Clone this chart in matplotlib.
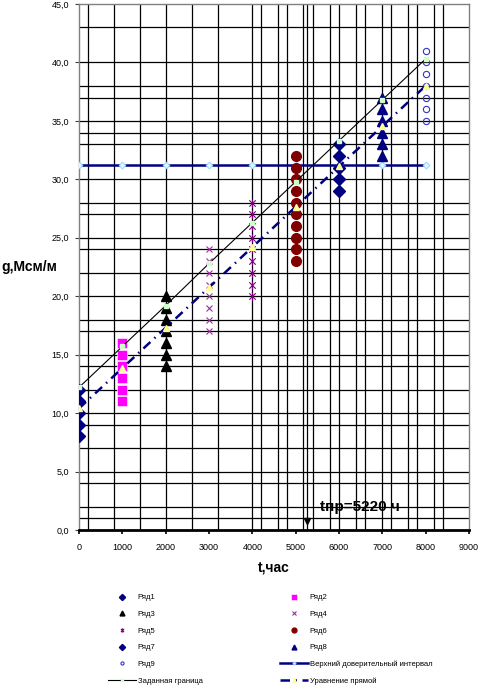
import matplotlib
matplotlib.use("Agg")
import matplotlib.pyplot as plt
from matplotlib.path import Path
from matplotlib.ticker import FuncFormatter

plt.rcParams['font.family'] = ['Liberation Sans', 'DejaVu Sans']

# ---- data ----
x_r1 = [0, 0, 0, 0, 0];                 y_r1 = [8, 9, 10, 11, 12]
x_r2 = [1000] * 6;                      y_r2 = [11, 12, 13, 14, 15, 16]
x_r3 = [2000] * 7;                      y_r3 = [14, 15, 16, 17, 18, 19, 20]
x_r4 = [3000] * 8;                      y_r4 = [17, 18, 19, 20, 21, 22, 23, 24]
x_r5 = [4000] * 9;                      y_r5 = [20, 21, 22, 23, 24, 25, 26, 27, 28]
x_r6 = [5000] * 10;                     y_r6 = [23, 24, 25, 26, 27, 28, 29, 30, 31, 32]
x_r7 = [6000] * 5;                      y_r7 = [29, 30, 31, 32, 33]
x_r8 = [7000] * 6;                      y_r8 = [32, 33, 34, 35, 36, 37]
x_r9 = [8000] * 7;                      y_r9 = [35, 36, 37, 38, 39, 40, 41]

x_line = [0, 1000, 2000, 3000, 4000, 5000, 6000, 7000, 8000]
y_upper = [31.2, 31.2, 31.2, 31.2, 31.2, 31.2, 31.2, 31.2, 31.2]
y_bound = [12.2, 15.7, 19.2, 22.8, 26.3, 29.8, 33.3, 36.8, 40.3]
y_fit = [10.4, 13.85, 17.3, 20.75, 24.2, 27.65, 31.1, 34.55, 38.0]

t_pr = 5250
t_pr_label = "tпр=5220 ч"

grid_y = [1, 2, 4, 5, 7, 9, 10, 12, 14, 15, 17, 18, 20, 22, 24, 25, 27, 28, 30,
          33, 34, 35, 37, 38, 40, 43]
grid_x = [200, 800, 1400, 2000, 2600, 3200, 4000, 4200, 4600, 4800, 5180, 5250,
          5400, 5800, 6000, 6400, 6600, 7000, 7200, 7600, 7800, 8200, 8400]

labels = ["Ряд1", "Ряд2", "Ряд3", "Ряд4", "Ряд5", "Ряд6", "Ряд7", "Ряд8", "Ряд9",
          "Верхний доверительный интервал", "Заданная граница", "Уравнение прямой"]

# ---- figure ----
W, H = 479, 686
fig = plt.figure(figsize=(W / 100, H / 100), dpi=100)
ax = fig.add_axes([79 / W, 1 - 530 / H, 390 / W, 526 / H])
ax.set_xlim(0, 9000)
ax.set_ylim(0, 45)

for gy in grid_y:
    ax.axhline(gy, color='black', lw=0.9, zorder=1)
for gx in grid_x:
    ax.axvline(gx, color='black', lw=0.9, zorder=1)

star = Path([(-1, -1), (1, 1), (-1, 1), (1, -1), (0, -1.3), (0, 1.3)],
            [Path.MOVETO, Path.LINETO, Path.MOVETO, Path.LINETO, Path.MOVETO, Path.LINETO])

navy = '#000080'
h = {}
h['Ряд1'], = ax.plot(x_r1, y_r1, ls='none', marker='D', ms=6.3, color=navy, zorder=5)
h['Ряд2'], = ax.plot(x_r2, y_r2, ls='none', marker='s', ms=7.4, color='#FF00FF', mec='white', mew=0.4, zorder=5)
h['Ряд3'], = ax.plot(x_r3, y_r3, ls='none', marker='^', ms=7, color='black', zorder=5)
h['Ряд4'], = ax.plot(x_r4, y_r4, ls='none', marker='x', ms=5, color='#993399', mew=0.8, zorder=5)
h['Ряд5'], = ax.plot(x_r5, y_r5, ls='none', marker=star, ms=6, color='#800080', mew=0.8, zorder=5)
h['Ряд6'], = ax.plot(x_r6, y_r6, ls='none', marker='o', ms=7, color='#800000', zorder=5)
h['Ряд7'], = ax.plot(x_r7, y_r7, ls='none', marker='D', ms=6.3, color=navy, zorder=5)
h['Ряд8'], = ax.plot(x_r8, y_r8, ls='none', marker='^', ms=7, color=navy, zorder=5)
h['Ряд9'], = ax.plot(x_r9, y_r9, ls='none', marker='o', ms=4.5, mfc='none', mec='#3333CC', mew=0.8, zorder=5)

h[labels[9]], = ax.plot(x_line, y_upper, color=navy, lw=1.8, marker='D', ms=3.5,
                        mfc='#CCFFFF', mec='#99CCFF', mew=0.6, zorder=4)
h[labels[10]], = ax.plot(x_line, y_bound, color='black', lw=0.8, marker='s', ms=3,
                         mfc='#CCFFCC', mec='#CCFFCC', zorder=6)
h[labels[11]], = ax.plot(x_line, y_fit, color=navy, lw=1.8, ls=(0, (3.8, 2.2, 0.6, 2.2)),
                         marker='^', ms=5, mfc='#FFFF99', mec='#FFFF99', zorder=6)

# t_pr arrow head
ax.plot([t_pr], [0.75], marker='v', ms=4, color='black', ls='none', zorder=7, clip_on=False)
ax.text(5560, 2.0, t_pr_label, fontsize=11, fontweight='bold', va='center', ha='left', zorder=8)

# spines / ticks
for s in ['left', 'top', 'right']:
    ax.spines[s].set_color('#808080')
    ax.spines[s].set_linewidth(1.0)
ax.spines['bottom'].set_color('black')
ax.spines['bottom'].set_linewidth(2.0)
ax.spines['bottom'].set_zorder(9)

ax.set_xticks(range(0, 9001, 1000))
ax.set_yticks(range(0, 46, 5))
ax.yaxis.set_major_formatter(FuncFormatter(lambda v, p: f"{v:.1f}".replace('.', ',')))
ax.tick_params(axis='x', direction='out', length=3, width=1.2, color='black', pad=6, labelsize=6.5)
ax.tick_params(axis='y', direction='out', length=3, width=0.8, color='#404040', pad=4, labelsize=6.5)

fig.text(1 / W, 1 - 267 / H, "g,Мсм/м", fontsize=10, fontweight='bold', ha='left', va='center')
fig.text(258 / W, 1 - 568 / H, "t,час", fontsize=10, fontweight='bold', ha='left', va='center')

left_keys = ['Ряд1', 'Ряд3', 'Ряд5', 'Ряд7', 'Ряд9', labels[10]]
right_keys = ['Ряд2', 'Ряд4', 'Ряд6', 'Ряд8', labels[9], labels[11]]
common = dict(loc='upper left', frameon=False, fontsize=5.5, borderpad=0, borderaxespad=0,
              handlelength=3.6, handletextpad=0.3, labelspacing=1.22, numpoints=1, markerscale=0.5)
leg1 = fig.legend([h[k] for k in left_keys], left_keys, bbox_to_anchor=(108 / W, 1 - 594 / H), **common)
leg2 = fig.legend([h[k] for k in right_keys], right_keys, bbox_to_anchor=(280 / W, 1 - 594 / H), **common)

fig.savefig("out.png", dpi=100)
